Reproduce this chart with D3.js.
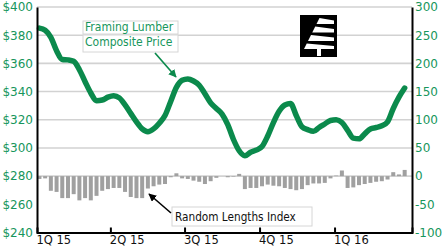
<!DOCTYPE html>
<html><head><meta charset="utf-8">
<script src="https://cdn.jsdelivr.net/npm/d3@7"></script>
<style>body{margin:0;background:#fff}svg{display:block}</style>
</head><body><svg id="c" width="446" height="247"></svg>
<script>
// ---- data ----
const weekStart = new Date(2015, 0, 4);
const weekEnd = new Date(2016, 2, 28);
const composite = [385,383.5,378.5,369,362.8,362.5,361.5,355.5,347,339,333.5,334,336,337,335.5,330.5,324.5,318.5,313.5,311.5,313.5,317.5,323,333,343,348,349,347.5,344.5,338.5,332,328,324,316.5,306,298,294.5,297,298.5,301,308.5,318,326,330.5,331.5,323,315,313,311.8,314.5,317,319.5,320,318,312.5,307,306.5,310,313.5,314.5,315.7,318.5,328,336,342.5];
const rlIndex = [-5,-4,-26,-28,-39,-39,-32,-43,-39,-43,-35,-26,-23,-21,-21,-28,-37,-39,-39,-22,-18,-15,-14,-2,5,-4,-5,-8,-10,-14,-9,-3,0,-2,-1,4,-23,-21,-21,-18,-15,-17,-18,-21,-23,-25,-23,-16,-13,-13,-12,-4,1,10,-21,-20,-16,-14,-12,-10,-9,-6,7,3,11];
const quarterLabels = ["1Q 15","2Q 15","3Q 15","4Q 15","1Q 16"];
const quarterDates = [new Date(2015,0,1),new Date(2015,3,1),new Date(2015,6,1),new Date(2015,9,1),new Date(2016,0,1)];
const leftTicks = [240,260,280,300,320,340,360,380,400];
const rightTicks = [-100,-50,0,50,100,150,200,250,300];
const gridTicks = [280,300,320,340,360,380,400];

const weeks = d3.timeWeek.range(weekStart, weekEnd);
const green = "#0b8a4c", labelGreen = "#17965c";

const svg = d3.select("#c");
const x = d3.scaleTime().domain([new Date(2015,0,1), new Date(2016,3,5)]).range([37,412]);
const yL = d3.scaleLinear().domain([240,400]).range([232.5,7]);
const yR = d3.scaleLinear().domain([-100,300]).range([232.5,7]);

// gridlines
svg.append("g").selectAll("line").data(gridTicks).join("line")
  .attr("x1",37).attr("x2",412).attr("y1",d=>yL(d)).attr("y2",d=>yL(d))
  .attr("stroke","#d2d2d2").attr("stroke-width",1.6);

// bars
const bw = 4;
svg.append("g").selectAll("rect").data(rlIndex).join("rect")
  .attr("x",(d,i)=>x(weeks[i])-bw/2)
  .attr("width",bw)
  .attr("y",d=>Math.min(yR(d),yR(0)))
  .attr("height",d=>Math.abs(yR(d)-yR(0)))
  .attr("fill","#a0a0a0");

// line
const line = d3.line().x((d,i)=>x(weeks[i])).y(d=>yL(d)).curve(d3.curveMonotoneX);
svg.append("path").datum(composite).attr("d",line)
  .attr("fill","none").attr("stroke",green).attr("stroke-width",5.5)
  .attr("stroke-linejoin","round").attr("stroke-linecap","round");

// axes
const axL = svg.append("g").attr("transform","translate(37,0)")
  .call(d3.axisLeft(yL).tickValues(leftTicks).tickSize(0).tickPadding(4).tickFormat(d=>"$"+d));
const axR = svg.append("g").attr("transform","translate(412,0)")
  .call(d3.axisRight(yR).tickValues(rightTicks).tickSize(0).tickPadding(3).tickFormat(d=>d<0?"-"+(-d):d));
[axL,axR].forEach(a=>{
  a.select(".domain").attr("stroke","#000").attr("stroke-width",2);
  a.selectAll("text").attr("fill",labelGreen).style("font-family","'DejaVu Sans',sans-serif").style("font-size","12px");
});
const axB = svg.append("g").attr("transform","translate(0,232.5)")
  .call(d3.axisBottom(x).tickValues(quarterDates).tickSize(-5).tickPadding(3).tickFormat((d,i)=>quarterLabels[i]));
axB.select(".domain").attr("stroke","#000").attr("stroke-width",2);
axB.selectAll(".tick line").attr("stroke","#000").attr("stroke-width",2);
axB.selectAll("text").attr("fill","#111").attr("text-anchor","start").attr("dx","-1").attr("y",3)
  .style("font-family","'DejaVu Sans',sans-serif").style("font-size","11.5px");
axB.selectAll(".tick").filter((d,i)=>i===0).select("line").remove();

// annotation: Framing Lumber Composite Price
const ann = svg.append("g");
[["Framing Lumber",21,34,31],["Composite Price",35,52,46]].forEach(([t,y0,y1,yb])=>{
  ann.append("rect").attr("x",83).attr("y",y0).attr("width",95).attr("height",y1-y0)
    .attr("fill","#fff").attr("stroke","#d6d6d6").attr("stroke-width",1);
  ann.append("text").attr("x",85).attr("y",yb).text(t).attr("fill",labelGreen)
    .style("font-family","'DejaVu Sans Condensed','DejaVu Sans',sans-serif").style("font-size","12px");
});
svg.append("defs").html(`
<marker id="ag" viewBox="0 0 10 10" refX="9" refY="5" markerWidth="5" markerHeight="5" orient="auto"><path d="M0,0L10,5L0,10z" fill="${green}"/></marker>
<marker id="ab" viewBox="0 0 10 10" refX="9" refY="5" markerWidth="5" markerHeight="5" orient="auto"><path d="M0,0L10,5L0,10z" fill="#000"/></marker>`);
svg.append("line").attr("x1",155).attr("y1",53).attr("x2",176).attr("y2",77)
  .attr("stroke",green).attr("stroke-width",1.6).attr("marker-end","url(#ag)");

// annotation: Random Lengths Index
svg.append("rect").attr("x",172).attr("y",207).attr("width",140).attr("height",19)
  .attr("fill","#fff").attr("stroke","#d6d6d6");
svg.append("text").attr("x",175).attr("y",220.5).text("Random Lengths Index").attr("fill","#111")
  .style("font-family","'DejaVu Sans Condensed','DejaVu Sans',sans-serif").style("font-size","11.7px");
svg.append("line").attr("x1",171).attr("y1",213).attr("x2",149).attr("y2",194)
  .attr("stroke","#000").attr("stroke-width",1.6).attr("marker-end","url(#ab)");

// logo
const lg = svg.append("g");
lg.append("rect").attr("x",300).attr("y",15).attr("width",37).attr("height",42).attr("fill","#000");
const bands = [[18,24],[26.5,32.5],[35,41],[43.5,49]];
bands.forEach(([t,b])=>{
  const lt = 320-(t-17)*0.5, lb = 320-(b-17)*0.5;
  lg.append("polygon").attr("points",`${lt},${t} 334,${t+2.5} 334,${b} ${lb},${b}`).attr("fill","#fff");
});
lg.append("rect").attr("x",317).attr("y",48).attr("width",4).attr("height",8).attr("fill","#fff");
</script></body></html>
